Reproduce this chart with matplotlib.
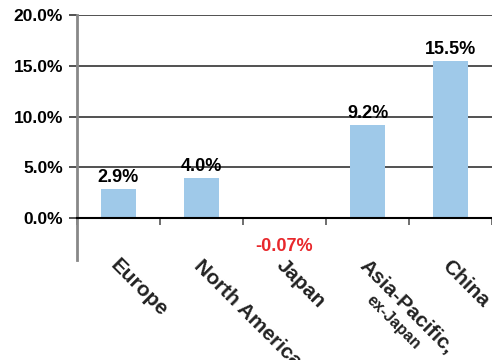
import matplotlib.pyplot as plt
import numpy as np

regions = ['Europe', 'North America', 'Japan', 'Asia-Pacific,', 'China']
growth = [2.9, 4.0, -0.07, 9.2, 15.5]
value_labels = ['2.9%', '4.0%', '-0.07%', '9.2%', '15.5%']
yticks = [0, 5, 10, 15, 20]

plt.rcParams['font.family'] = ['Liberation Sans', 'DejaVu Sans']
plt.rcParams['font.weight'] = 'bold'

fig = plt.figure(figsize=[4.92, 3.6], dpi=100)
ax = fig.add_axes([77/492, 100/360, 415/492, 245/360])

x = np.arange(len(regions))
bar_col = '#9fc9e9'
ax.bar(x, [g if g > 0 else 0 for g in growth], width=0.41, color=bar_col, zorder=2)

ax.set_xlim(-0.5, 4.47)
ax.set_ylim(-4.1, 20)

# gridlines + y ticks
ax.set_yticks(yticks)
ax.set_yticklabels(['%.1f%%' % t for t in yticks], fontsize=12.5, fontweight='bold')
ax.yaxis.grid(True, color='#333333', linewidth=1.2, zorder=1)
ax.tick_params(axis='y', length=6, width=1.2, color='#333333', pad=4)

ax.set_xticks([-0.5] + list(x + 0.5))
ax.set_xticklabels([])
ax.tick_params(axis='x', length=5, width=1.2, color='#555555', direction='out')

for s in ['top', 'right']:
    ax.spines[s].set_visible(False)
ax.spines['left'].set_color('#888888')
ax.spines['left'].set_linewidth(2)
ax.spines['bottom'].set_position(('data', 0))
ax.spines['bottom'].set_color('black')
ax.spines['bottom'].set_linewidth(1.5)
ax.spines['bottom'].set_zorder(3)

# value labels
for i, (g, lab) in enumerate(zip(growth, value_labels)):
    if g >= 0:
        ax.annotate(lab, (i, g), xytext=(0, 2), textcoords='offset points',
                    ha='center', va='bottom', fontsize=13, fontweight='bold')
    else:
        ax.annotate(lab, (i, 0), xytext=(0, -14), textcoords='offset points',
                    ha='center', va='top', fontsize=13, fontweight='bold', color='#e8282c')

# category labels
for i, r in enumerate(regions):
    ax.text(i + 0.02, -3.7, r, rotation=-45, rotation_mode='anchor',
            ha='left', va='top', fontsize=15, fontweight='bold', color='#222222',
            clip_on=False)
ax.text(3 + 0.08, -7.3, 'ex-Japan', rotation=-45, rotation_mode='anchor',
        ha='left', va='top', fontsize=11.5, fontweight='bold', color='#222222',
        clip_on=False)

plt.savefig('out.png', dpi=100)
